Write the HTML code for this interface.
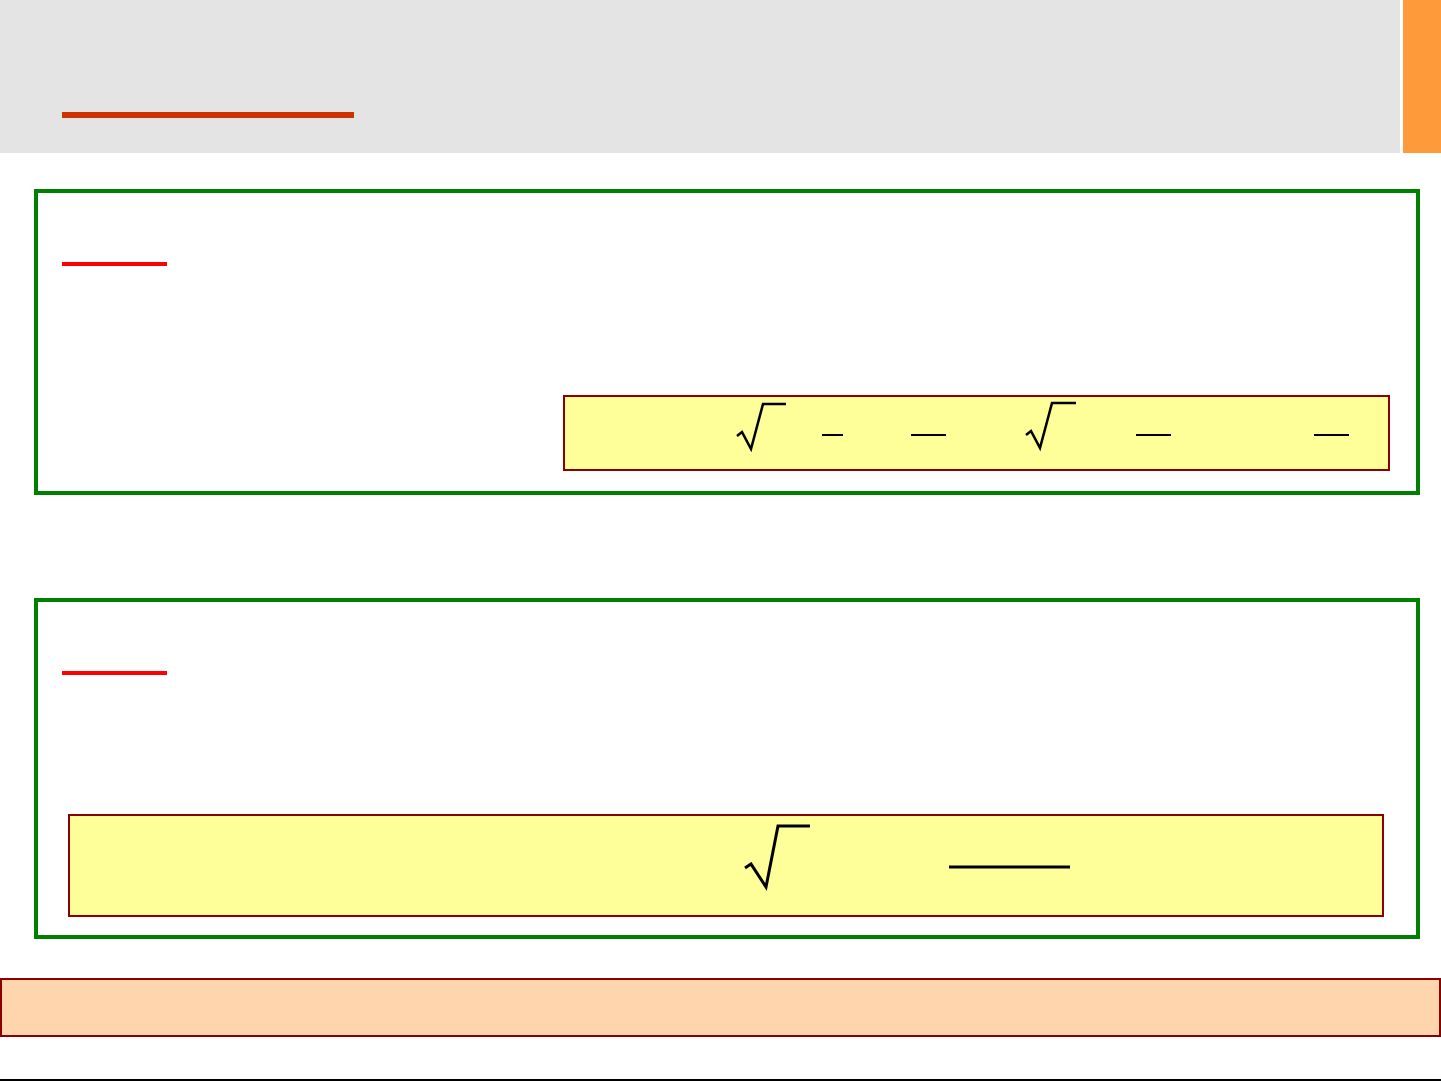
<!DOCTYPE html>
<html><head><meta charset="utf-8"><style>
body{margin:0;width:1441px;height:1081px;position:relative;background:#fff;overflow:hidden;font-family:"Liberation Sans",sans-serif}
div{position:absolute;box-sizing:border-box}
</style></head><body>
<div style="left:0;top:0;width:1400px;height:153px;background:#e4e4e4"></div>
<div style="left:1403px;top:0;width:38px;height:153px;background:#ff9a3a"></div>
<div style="left:62px;top:112px;width:292px;height:6px;background:#cc3300"></div>

<div style="left:34px;top:189px;width:1386px;height:306px;border:4px solid #008000"></div>
<div style="left:62px;top:262px;width:105px;height:4px;background:#ff0000"></div>
<div style="left:563px;top:395px;width:827px;height:76px;border:2px solid #8b0000;background:#ffff99"></div>

<div style="left:34px;top:598px;width:1386px;height:341px;border:4px solid #008000"></div>
<div style="left:62px;top:671px;width:105px;height:4px;background:#ff0000"></div>
<div style="left:68px;top:814px;width:1316px;height:103px;border:2px solid #8b0000;background:#ffff99"></div>

<div style="left:0;top:978px;width:1441px;height:59px;border:2px solid #8b0000;background:#ffd5ae"></div>
<div style="left:0;top:1079px;width:1441px;height:2px;background:#000"></div>

<svg style="position:absolute;left:0;top:0" width="1441" height="1081">
<g fill="none" stroke="#000" stroke-width="2.5" stroke-linejoin="miter">
<polyline points="737,436 742,432 751,449 763,404 786,404"/>
<polyline points="1026,435 1031,431 1040,448 1052,403 1076,403"/>
<polyline points="745,868 751,864 766,887 778,826 810,826" stroke-width="3"/>
</g>
<g stroke="#000" stroke-width="2">
<line x1="822" y1="435" x2="843" y2="435"/>
<line x1="911" y1="435" x2="946" y2="435"/>
<line x1="1136" y1="435" x2="1171" y2="435"/>
<line x1="1314" y1="435" x2="1349" y2="435"/>
<line x1="949" y1="867" x2="1070" y2="867" stroke-width="3"/>
</g>
</svg>
</body></html>
